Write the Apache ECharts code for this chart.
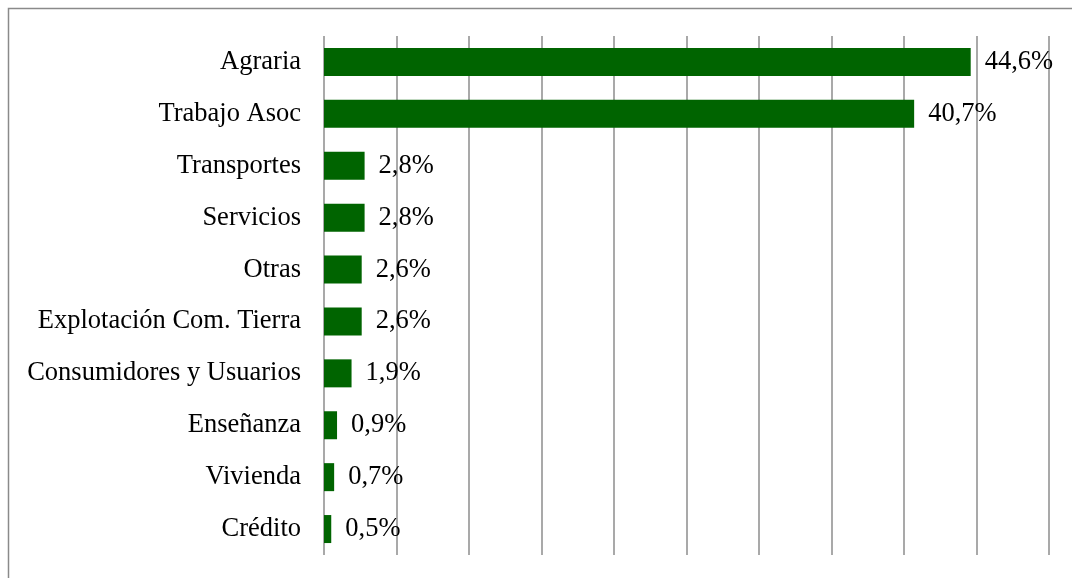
<!DOCTYPE html>
<html>
<head>
<meta charset="utf-8">
<script src="https://cdn.jsdelivr.net/npm/echarts@6/dist/echarts.min.js"></script>
<style>
  html, body { margin: 0; padding: 0; background: #fff; }
  #chart { width: 1072px; height: 578px; }
</style>
</head>
<body>
<div id="chart"></div>
<script>
// categorías y porcentajes (de arriba a abajo)
const categories = ['Agraria', 'Trabajo Asoc', 'Transportes', 'Servicios', 'Otras',
  'Explotación Com. Tierra', 'Consumidores y Usuarios', 'Enseñanza', 'Vivienda', 'Crédito'];
const values = [44.6, 40.7, 2.8, 2.8, 2.6, 2.6, 1.9, 0.9, 0.7, 0.5];

const chart = echarts.init(document.getElementById('chart'));
const font = '"Liberation Serif", "Times New Roman", serif';

const option = {
  animation: false,
  backgroundColor: '#fff',
  graphic: [{
    type: 'rect',
    shape: { x: 8.5, y: 8.5, width: 1200, height: 700 },
    style: { fill: 'none', stroke: '#8a8a8a', lineWidth: 1.5 },
    silent: true
  }],
  grid: { left: 324, right: 23, top: 36, bottom: 23, containLabel: false },
  xAxis: {
    type: 'value',
    min: 0,
    max: 50,
    interval: 5,
    axisLabel: { show: false },
    axisLine: { show: false },
    axisTick: { show: false },
    splitLine: { show: true, lineStyle: { color: '#8c8c8c', width: 1.5 } }
  },
  yAxis: {
    type: 'category',
    inverse: true,
    data: categories,
    axisLine: { show: false },
    axisTick: { show: false },
    axisLabel: { color: '#000', fontFamily: font, fontSize: 26.5, margin: 23, padding: [7, 0, 0, 0] }
  },
  series: [{
    type: 'bar',
    data: values,
    barWidth: 28,
    itemStyle: { color: '#006400' },
    label: {
      show: true,
      position: 'right',
      distance: 14,
      color: '#000',
      fontFamily: font,
      fontSize: 26.5,
      padding: [7, 0, 0, 0],
      formatter: p => p.value.toFixed(1).replace('.', ',') + '%'
    }
  }]
};

option && chart.setOption(option);
</script>
</body>
</html>
